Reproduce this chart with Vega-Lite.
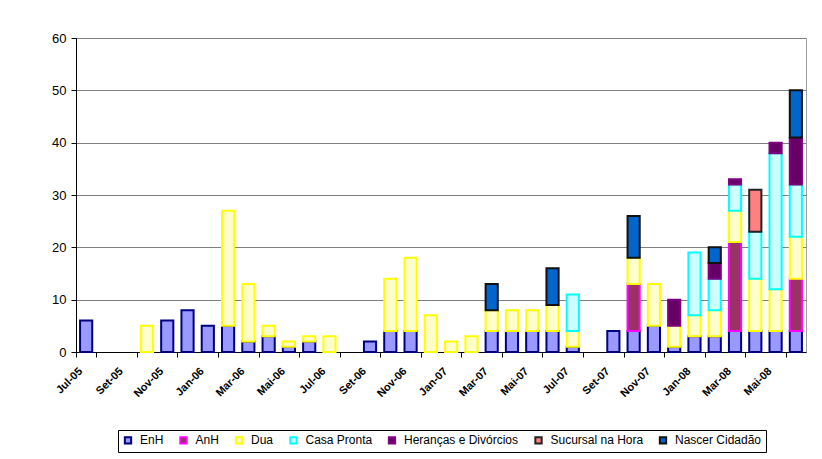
{
  "$schema": "https://vega.github.io/schema/vega-lite/v6.json",
  "autosize": {"type": "none"},
  "padding": {"left": 76, "top": 38, "right": 16, "bottom": 107},
  "width": 730,
  "height": 314,
  "background": "white",
  "config": {
    "font": "Liberation Sans, Arial, sans-serif",
    "view": {"stroke": "#a0a0a0", "strokeWidth": 1},
    "axis": {"labelFont": "Liberation Sans, Arial, sans-serif", "domainColor": "black", "tickColor": "black", "labelColor": "black"},
    "axisX": {"ticks": true, "tickSize": 5, "tickWidth": 1, "tickColor": "#000000"},
    "legend": {"labelFont": "Liberation Sans, Arial, sans-serif"}
  },
  "data": {
    "values": [
      {"m": "Jul-05", "s": "EnH", "v": 6, "o": 1},
      {"m": "Out-05", "s": "Dua", "v": 5, "o": 3},
      {"m": "Nov-05", "s": "EnH", "v": 6, "o": 1},
      {"m": "Dez-05", "s": "EnH", "v": 8, "o": 1},
      {"m": "Jan-06", "s": "EnH", "v": 5, "o": 1},
      {"m": "Fev-06", "s": "EnH", "v": 5, "o": 1},
      {"m": "Fev-06", "s": "Dua", "v": 22, "o": 3},
      {"m": "Mar-06", "s": "EnH", "v": 2, "o": 1},
      {"m": "Mar-06", "s": "Dua", "v": 11, "o": 3},
      {"m": "Abr-06", "s": "EnH", "v": 3, "o": 1},
      {"m": "Abr-06", "s": "Dua", "v": 2, "o": 3},
      {"m": "Mai-06", "s": "EnH", "v": 1, "o": 1},
      {"m": "Mai-06", "s": "Dua", "v": 1, "o": 3},
      {"m": "Jun-06", "s": "EnH", "v": 2, "o": 1},
      {"m": "Jun-06", "s": "Dua", "v": 1, "o": 3},
      {"m": "Jul-06", "s": "Dua", "v": 3, "o": 3},
      {"m": "Set-06", "s": "EnH", "v": 2, "o": 1},
      {"m": "Out-06", "s": "EnH", "v": 4, "o": 1},
      {"m": "Out-06", "s": "Dua", "v": 10, "o": 3},
      {"m": "Nov-06", "s": "EnH", "v": 4, "o": 1},
      {"m": "Nov-06", "s": "Dua", "v": 14, "o": 3},
      {"m": "Dez-06", "s": "Dua", "v": 7, "o": 3},
      {"m": "Jan-07", "s": "Dua", "v": 2, "o": 3},
      {"m": "Fev-07", "s": "Dua", "v": 3, "o": 3},
      {"m": "Mar-07", "s": "EnH", "v": 4, "o": 1},
      {"m": "Mar-07", "s": "Dua", "v": 4, "o": 3},
      {"m": "Mar-07", "s": "Nascer Cidadão", "v": 5, "o": 7},
      {"m": "Abr-07", "s": "EnH", "v": 4, "o": 1},
      {"m": "Abr-07", "s": "Dua", "v": 4, "o": 3},
      {"m": "Mai-07", "s": "EnH", "v": 4, "o": 1},
      {"m": "Mai-07", "s": "Dua", "v": 4, "o": 3},
      {"m": "Jun-07", "s": "EnH", "v": 4, "o": 1},
      {"m": "Jun-07", "s": "Dua", "v": 5, "o": 3},
      {"m": "Jun-07", "s": "Nascer Cidadão", "v": 7, "o": 7},
      {"m": "Jul-07", "s": "EnH", "v": 1, "o": 1},
      {"m": "Jul-07", "s": "Dua", "v": 3, "o": 3},
      {"m": "Jul-07", "s": "Casa Pronta", "v": 7, "o": 4},
      {"m": "Set-07", "s": "EnH", "v": 4, "o": 1},
      {"m": "Out-07", "s": "EnH", "v": 4, "o": 1},
      {"m": "Out-07", "s": "AnH", "v": 9, "o": 2},
      {"m": "Out-07", "s": "Dua", "v": 5, "o": 3},
      {"m": "Out-07", "s": "Nascer Cidadão", "v": 8, "o": 7},
      {"m": "Nov-07", "s": "EnH", "v": 5, "o": 1},
      {"m": "Nov-07", "s": "Dua", "v": 8, "o": 3},
      {"m": "Dez-07", "s": "EnH", "v": 1, "o": 1},
      {"m": "Dez-07", "s": "Dua", "v": 4, "o": 3},
      {"m": "Dez-07", "s": "Heranças e Divórcios", "v": 5, "o": 5},
      {"m": "Jan-08", "s": "EnH", "v": 3, "o": 1},
      {"m": "Jan-08", "s": "Dua", "v": 4, "o": 3},
      {"m": "Jan-08", "s": "Casa Pronta", "v": 12, "o": 4},
      {"m": "Fev-08", "s": "EnH", "v": 3, "o": 1},
      {"m": "Fev-08", "s": "Dua", "v": 5, "o": 3},
      {"m": "Fev-08", "s": "Casa Pronta", "v": 6, "o": 4},
      {"m": "Fev-08", "s": "Heranças e Divórcios", "v": 3, "o": 5},
      {"m": "Fev-08", "s": "Nascer Cidadão", "v": 3, "o": 7},
      {"m": "Mar-08", "s": "EnH", "v": 4, "o": 1},
      {"m": "Mar-08", "s": "AnH", "v": 17, "o": 2},
      {"m": "Mar-08", "s": "Dua", "v": 6, "o": 3},
      {"m": "Mar-08", "s": "Casa Pronta", "v": 5, "o": 4},
      {"m": "Mar-08", "s": "Heranças e Divórcios", "v": 1, "o": 5},
      {"m": "Abr-08", "s": "EnH", "v": 4, "o": 1},
      {"m": "Abr-08", "s": "Dua", "v": 10, "o": 3},
      {"m": "Abr-08", "s": "Casa Pronta", "v": 9, "o": 4},
      {"m": "Abr-08", "s": "Sucursal na Hora", "v": 8, "o": 6},
      {"m": "Mai-08", "s": "EnH", "v": 4, "o": 1},
      {"m": "Mai-08", "s": "Dua", "v": 8, "o": 3},
      {"m": "Mai-08", "s": "Casa Pronta", "v": 26, "o": 4},
      {"m": "Mai-08", "s": "Heranças e Divórcios", "v": 2, "o": 5},
      {"m": "Jun-08", "s": "EnH", "v": 4, "o": 1},
      {"m": "Jun-08", "s": "AnH", "v": 10, "o": 2},
      {"m": "Jun-08", "s": "Dua", "v": 8, "o": 3},
      {"m": "Jun-08", "s": "Casa Pronta", "v": 10, "o": 4},
      {"m": "Jun-08", "s": "Heranças e Divórcios", "v": 9, "o": 5},
      {"m": "Jun-08", "s": "Nascer Cidadão", "v": 9, "o": 7}
    ]
  },
  "mark": {"type": "bar", "strokeWidth": 2, "width": {"band": 0.6}},
  "encoding": {
    "x": {
      "field": "m",
      "type": "ordinal",
      "scale": {
        "domain": ["Jul-05","Ago-05","Set-05","Out-05","Nov-05","Dez-05","Jan-06","Fev-06","Mar-06","Abr-06","Mai-06","Jun-06","Jul-06","Ago-06","Set-06","Out-06","Nov-06","Dez-06","Jan-07","Fev-07","Mar-07","Abr-07","Mai-07","Jun-07","Jul-07","Ago-07","Set-07","Out-07","Nov-07","Dez-07","Jan-08","Fev-08","Mar-08","Abr-08","Mai-08","Jun-08"],
        "paddingInner": 0,
        "paddingOuter": 0
      },
      "axis": {
        "title": null,
        "values": ["Jul-05","Set-05","Nov-05","Jan-06","Mar-06","Mai-06","Jul-06","Set-06","Nov-06","Jan-07","Mar-07","Mai-07","Jul-07","Set-07","Nov-07","Jan-08","Mar-08","Mai-08"],
        "tickBand": "extent",
        "tickExtra": true,
        "labelAngle": -45,
        "labelAlign": "right",
        "labelBaseline": "top",
        "labelFontSize": 11,
        "labelFontWeight": "bold",
        "labelPadding": 8,
        "labelOffset": -10,
        "labelOverlap": false
      }
    },
    "y": {
      "field": "v",
      "type": "quantitative",
      "aggregate": "sum",
      "stack": "zero",
      "scale": {"domain": [0, 60], "nice": false},
      "axis": {
        "title": null,
        "values": [0, 10, 20, 30, 40, 50, 60],
        "labelFontSize": 13,
        "labelPadding": 5,
        "tickSize": 5,
        "gridColor": "#808080",
        "gridWidth": 1
      }
    },
    "order": {"field": "o", "type": "quantitative", "aggregate": "min"},
    "fill": {
      "field": "s",
      "type": "nominal",
      "scale": {
        "domain": ["EnH", "AnH", "Dua", "Casa Pronta", "Heranças e Divórcios", "Sucursal na Hora", "Nascer Cidadão"],
        "range": ["#9999FF", "#993366", "#FFFFCC", "#CCFFFF", "#660066", "#FF8080", "#0066CC"]
      },
      "legend": {
        "title": null,
        "orient": "none",
        "legendX": 42,
        "legendY": 392,
        "direction": "horizontal",
        "strokeColor": "black",
        "padding": 4,
        "symbolType": "square",
        "symbolSize": 40,
        "symbolStrokeWidth": 2,
        "labelFontSize": 12,
        "labelOffset": 6,
        "columnPadding": 11.5
      }
    },
    "stroke": {
      "field": "s",
      "type": "nominal",
      "scale": {
        "domain": ["EnH", "AnH", "Dua", "Casa Pronta", "Heranças e Divórcios", "Sucursal na Hora", "Nascer Cidadão"],
        "range": ["#000080", "#FF00FF", "#FFFF00", "#00FFFF", "#800080", "#222222", "#111111"]
      },
      "legend": {
        "title": null,
        "orient": "none",
        "legendX": 42,
        "legendY": 392,
        "direction": "horizontal",
        "strokeColor": "black",
        "padding": 4,
        "symbolType": "square",
        "symbolSize": 40,
        "symbolStrokeWidth": 2,
        "labelFontSize": 12,
        "labelOffset": 6,
        "columnPadding": 11.5
      }
    }
  }
}
